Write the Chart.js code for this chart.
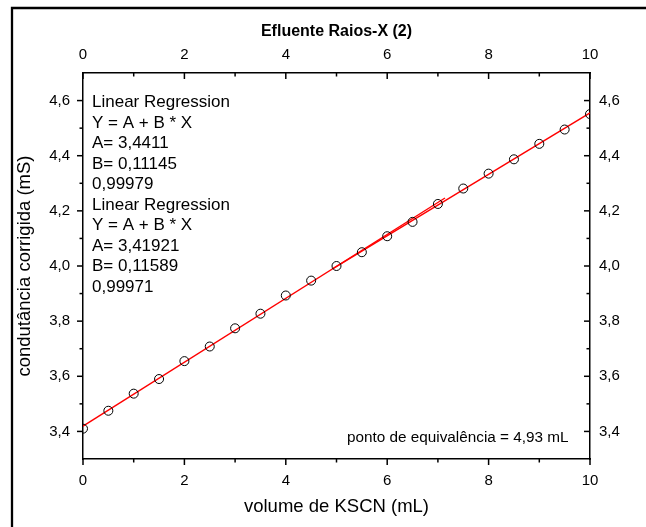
<!DOCTYPE html>
<html>
<head>
<meta charset="utf-8">
<script src="https://cdn.jsdelivr.net/npm/chart.js@4/dist/chart.umd.min.js"></script>
<style>
  body { margin: 0; background: #fff; }
</style>
</head>
<body>
<canvas id="chart" width="646" height="527"></canvas>
<script>
// measured points (volume in mL, conductance in mS)
const volume = [0, 0.5, 1, 1.5, 2, 2.5, 3, 3.5, 4, 4.5, 5, 5.5, 6, 6.5, 7, 7.5, 8, 8.5, 9, 9.5, 10];
const conductance = [3.410, 3.475, 3.537, 3.590, 3.655, 3.708, 3.774, 3.827, 3.893, 3.947, 4.000,
                     4.050, 4.108, 4.160, 4.225, 4.281, 4.335, 4.387, 4.443, 4.495, 4.551];

// the two linear fits shown in the chart: intercept, slope and the x span of each line
const fitA = [3.4411, 3.41921];
const fitB = [0.11145, 0.11589];
const fitFrom = [4.93, 0];
const fitTo = [10, 7.14];

const xTicks = [0, 2, 4, 6, 8, 10];
const xMinor = [1, 3, 5, 7, 9];
const yTicks = [3.4, 3.6, 3.8, 4.0, 4.2, 4.4, 4.6];
const yMinor = [3.5, 3.7, 3.9, 4.1, 4.3, 4.5];

const notes = [
  'Linear Regression', 'Y = A + B * X', 'A= 3,4411', 'B= 0,11145', '0,99979',
  'Linear Regression', 'Y = A + B * X', 'A= 3,41921', 'B= 0,11589', '0,99971'
];
const eqNote = 'ponto de equivalência = 4,93 mL';

const FONT = "'Liberation Sans', Arial, sans-serif";
Chart.defaults.font.family = FONT;
Chart.defaults.color = '#000';

const points = volume.map((v, i) => ({ x: v, y: conductance[i] }));
const fitLine = i => [
  { x: fitFrom[i], y: fitA[i] + fitB[i] * fitFrom[i] },
  { x: fitTo[i], y: fitA[i] + fitB[i] * fitTo[i] }
];

// tick marks: left/bottom point outward, right/top point inward
const tickMarks = {
  id: 'tickMarks',
  afterDraw(chart) {
    const ctx = chart.ctx;
    const s = chart.scales;
    ctx.save();
    ctx.strokeStyle = '#000';
    ctx.lineWidth = 1.5;
    const mark = (x1, y1, x2, y2) => { ctx.beginPath(); ctx.moveTo(x1, y1); ctx.lineTo(x2, y2); ctx.stroke(); };
    const top = chart.chartArea.top, bottom = chart.chartArea.bottom;
    const left = chart.chartArea.left, right = chart.chartArea.right;
    [[xTicks, 6], [xMinor, 3.5]].forEach(([vals, len]) => vals.forEach(v => {
      const px = s.x.getPixelForValue(v);
      mark(px, bottom, px, bottom + len);
      mark(px, top, px, top + len);
    }));
    [[yTicks, 6], [yMinor, 3.5]].forEach(([vals, len]) => vals.forEach(v => {
      const py = s.y.getPixelForValue(v);
      mark(left, py, left - len, py);
      mark(right, py, right - len, py);
    }));

    // outer frame
    ctx.lineWidth = 2.3;
    ctx.beginPath();
    ctx.moveTo(12, 527);
    ctx.lineTo(12, 8);
    ctx.lineTo(646, 8);
    ctx.stroke();

    // regression text
    ctx.fillStyle = '#000';
    ctx.font = '17px ' + FONT;
    ctx.textBaseline = 'middle';
    ctx.textAlign = 'left';
    notes.forEach((t, i) => ctx.fillText(t, 92, 102.5 + i * 20.5));
    ctx.font = '15.3px ' + FONT;
    ctx.fillText(eqNote, 347, 438);
    ctx.restore();
  }
};

const axisBase = (pos, size) => ({
  type: 'linear',
  position: pos,
  grid: { display: false, drawTicks: false },
  border: { display: true, color: '#000', width: 1.5 },
  afterFit: s => { if (pos === 'left' || pos === 'right') s.width = size; else s.height = size; }
});

new Chart(document.getElementById('chart'), {
  type: 'scatter',
  data: {
    datasets: [
      {
        data: points,
        xAxisID: 'x', yAxisID: 'y',
        pointStyle: 'circle',
        pointRadius: 4.5,
        pointBorderWidth: 1,
        pointBorderColor: '#000',
        pointBackgroundColor: 'rgba(0,0,0,0)',
        showLine: false,
        clip: 0
      },
      {
        data: fitLine(1),
        xAxisID: 'x', yAxisID: 'y',
        showLine: true, borderColor: '#ff0000', borderWidth: 1.4,
        pointRadius: 0, clip: 0
      },
      {
        data: fitLine(0),
        xAxisID: 'x', yAxisID: 'y',
        showLine: true, borderColor: '#ff0000', borderWidth: 1.4,
        pointRadius: 0, clip: 0
      }
    ]
  },
  options: {
    responsive: false,
    animation: false,
    devicePixelRatio: 1,
    layout: { padding: 0 },
    plugins: { legend: { display: false }, tooltip: { enabled: false } },
    scales: {
      x: Object.assign(axisBase('bottom', 68), {
        min: 0, max: 10,
        afterBuildTicks: s => { s.ticks = xTicks.map(v => ({ value: v })); },
        ticks: { font: { size: 15 }, padding: 13, maxRotation: 0, callback: v => String(v) },
        title: { display: true, text: 'volume de KSCN (mL)', font: { size: 18.5 }, padding: { top: 0, bottom: 9 } }
      }),
      x2: Object.assign(axisBase('top', 73), {
        min: 0, max: 10,
        afterBuildTicks: s => { s.ticks = xTicks.map(v => ({ value: v })); },
        ticks: { font: { size: 15 }, padding: 9, maxRotation: 0, callback: v => String(v) },
        title: { display: true, text: 'Efluente Raios-X (2)', font: { size: 16, weight: 'bold' }, padding: { top: 22.4, bottom: 0 } }
      }),
      y: Object.assign(axisBase('left', 83), {
        min: 3.3, max: 4.7,
        afterBuildTicks: s => { s.ticks = yTicks.map(v => ({ value: v })); },
        ticks: { font: { size: 15 }, padding: 13, callback: v => v.toFixed(1).replace('.', ',') },
        title: { display: true, text: 'condutância corrigida (mS)', font: { size: 18.5 }, padding: { top: 14, bottom: 0 } }
      }),
      y2: Object.assign(axisBase('right', 56), {
        min: 3.3, max: 4.7,
        afterBuildTicks: s => { s.ticks = yTicks.map(v => ({ value: v })); },
        ticks: { font: { size: 15 }, padding: 9, callback: v => v.toFixed(1).replace('.', ',') }
      })
    }
  },
  plugins: [tickMarks]
});
</script>
</body>
</html>
